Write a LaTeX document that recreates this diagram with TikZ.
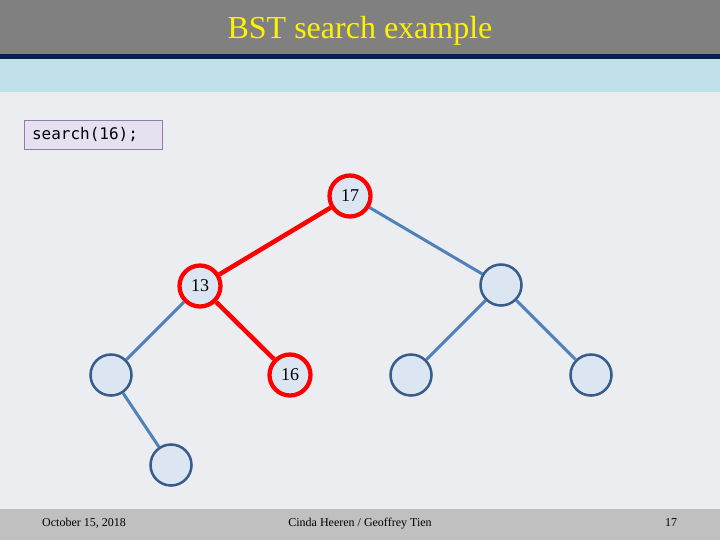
\documentclass[tikz,border=0pt]{standalone}
\usepackage{fontspec}
\setmainfont{Liberation Serif}
\setmonofont{DejaVu Sans Mono}
\usepackage{xcolor}
\usetikzlibrary{backgrounds}

\definecolor{slidebg}{HTML}{EBEDF1}
\definecolor{bandblue}{HTML}{C1E1EA}
\definecolor{headgray}{HTML}{808080}
\definecolor{navyline}{HTML}{0B1F4F}
\definecolor{footgray}{HTML}{C0C0C0}
\definecolor{nodefill}{HTML}{DCE6F2}
\definecolor{nodeline}{HTML}{385D8A}
\definecolor{edgeblue}{HTML}{4F81BD}
\definecolor{codefill}{HTML}{E6E0F0}
\definecolor{codeline}{HTML}{8B80A3}

\begin{document}
\begin{tikzpicture}[x=0.75pt,y=0.75pt,yscale=-1,xscale=1,
  treenode/.style={circle,minimum size=30.75pt,inner sep=0pt,fill=nodefill,draw=nodeline,line width=1.9pt,font=\fontsize{13.5}{13.5}\selectfont},
  foundnode/.style={treenode,draw=red,line width=3.2pt},
  treeedge/.style={draw=edgeblue,line width=2.25pt},
  pathedge/.style={draw=red,line width=3.4pt},
  foottext/.style={inner sep=0pt,anchor=base,font=\fontsize{9}{9}\selectfont}]
\useasboundingbox (0,0) rectangle (720,540);
\begin{scope}[on background layer]
\fill [slidebg] (0,0) rectangle (720,540);
\fill [headgray] (0,0) rectangle (720,54);
\fill [navyline] (0,54) rectangle (720,59);
\fill [bandblue] (0,59) rectangle (720,92);
\fill [footgray] (0,509) rectangle (720,540);
\end{scope}
\node (title) at (360,38) [anchor=base,inner sep=0pt,text=yellow,font=\fontsize{24}{24}\selectfont] {BST search example};
\node (code) at (93,135) [draw=codeline,fill=codefill,line width=0.75pt,minimum width=103.5pt,minimum height=21.75pt,inner sep=0pt,font=\ttfamily\fontsize{12}{12}\selectfont] {search(16);\hspace*{12pt}};
% tree
\node (n17) at (350,196) [foundnode] {17};
\node (n13) at (200,286) [foundnode] {13};
\node (n20) at (501,285) [treenode] {};
\node (n10) at (111,375) [treenode] {};
\node (n16) at (290,375) [foundnode] {16};
\node (n19) at (411,375) [treenode] {};
\node (n24) at (591,375) [treenode] {};
\node (n11) at (171,465) [treenode] {};
\begin{scope}[on background layer]
\draw [treeedge] (n17) -- (n20);
\draw [treeedge] (n13) -- (n10);
\draw [treeedge] (n10) -- (n11);
\draw [treeedge] (n20) -- (n19);
\draw [treeedge] (n20) -- (n24);
\draw [pathedge] (n17) -- (n13);
\draw [pathedge] (n13) -- (n16);
\end{scope}
% footer
\node (date) at (84,526) [foottext] {October 15, 2018};
\node (authors) at (360,526) [foottext] {Cinda Heeren / Geoffrey Tien};
\node (page) at (671,526) [foottext] {17};
\end{tikzpicture}
\end{document}
